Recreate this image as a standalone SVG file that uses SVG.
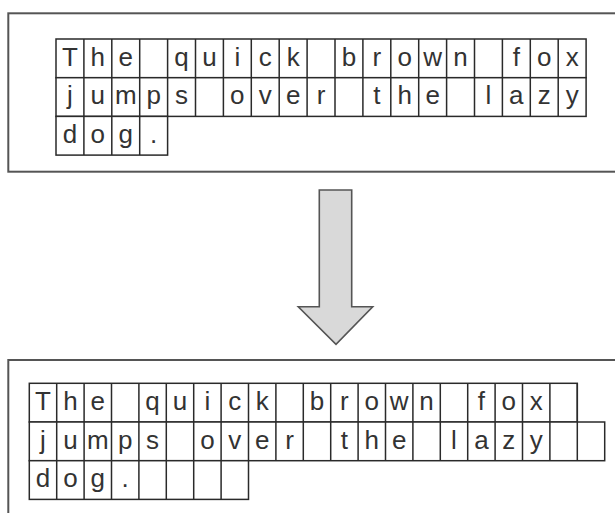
<svg xmlns="http://www.w3.org/2000/svg" width="615" height="513" viewBox="0 0 615 513">
<style>
.panel{fill:#fff;stroke:#555;stroke-width:2}
.row{fill:#fff;stroke:#2a2a2a;stroke-width:1.5}
.grid{fill:none;stroke:#2a2a2a;stroke-width:1.5}
.t{font-family:"Liberation Sans",Arial,sans-serif;font-size:26px;fill:#333;text-anchor:middle}
.arrow{fill:#d9d9d9;stroke:#555;stroke-width:1.6;stroke-linejoin:miter}
</style>
<rect width="615" height="513" fill="#fff"/>
<g id="before">
<rect class="panel" x="8.3" y="13.3" width="620" height="158.4"/>
<rect class="row" x="56" y="39" width="530.1" height="38.7"/>
<rect class="row" x="56" y="77.7" width="530.1" height="38.7"/>
<rect class="row" x="56" y="116.4" width="111.6" height="38.7"/>
<path class="grid" d="M83.9 39V155.1M111.8 39V155.1M139.7 39V155.1M167.6 39V116.4M195.5 39V116.4M223.4 39V116.4M251.3 39V116.4M279.2 39V116.4M307.1 39V116.4M335 39V116.4M362.9 39V116.4M390.8 39V116.4M418.7 39V116.4M446.6 39V116.4M474.5 39V116.4M502.4 39V116.4M530.3 39V116.4M558.2 39V116.4"/>
<text class="t" y="65.5" x="69.95 97.85 125.75 153.65 181.55 209.45 237.35 265.25 293.15 321.05 348.95 376.85 404.75 432.65 460.55 488.45 516.35 544.25 572.15">The quick brown fox</text>
<text class="t" y="104.2" x="69.95 97.85 125.75 153.65 181.55 209.45 237.35 265.25 293.15 321.05 348.95 376.85 404.75 432.65 460.55 488.45 516.35 544.25 572.15">jumps over the lazy</text>
<text class="t" y="142.9" x="69.95 97.85 125.75 153.65">dog.</text>
</g>
<g id="arrow">
<path class="arrow" d="M319.3 190H351.7V306.7H372.7L336 344.3L298.3 306.7H319.3Z"/>
</g>
<g id="after">
<rect class="panel" x="8.3" y="360" width="620" height="170"/>
<rect class="row" x="29.3" y="383.3" width="548" height="38.7"/>
<rect class="row" x="29.3" y="422" width="575.4" height="38.7"/>
<rect class="row" x="29.3" y="460.7" width="219.2" height="38.7"/>
<path class="grid" d="M56.7 383.3V499.4M84.1 383.3V499.4M111.5 383.3V499.4M138.9 383.3V499.4M166.3 383.3V499.4M193.7 383.3V499.4M221.1 383.3V499.4M248.5 383.3V460.7M275.9 383.3V460.7M303.3 383.3V460.7M330.7 383.3V460.7M358.1 383.3V460.7M385.5 383.3V460.7M412.9 383.3V460.7M440.3 383.3V460.7M467.7 383.3V460.7M495.1 383.3V460.7M522.5 383.3V460.7M549.9 383.3V460.7M577.3 383.3V460.7"/>
<text class="t" y="409.8" x="43 70.4 97.8 125.2 152.6 180 207.4 234.8 262.2 289.6 317 344.4 371.8 399.2 426.6 454 481.4 508.8 536.2">The quick brown fox</text>
<text class="t" y="448.5" x="43 70.4 97.8 125.2 152.6 180 207.4 234.8 262.2 289.6 317 344.4 371.8 399.2 426.6 454 481.4 508.8 536.2">jumps over the lazy</text>
<text class="t" y="487.2" x="43 70.4 97.8 125.2">dog.</text>
</g>
</svg>
